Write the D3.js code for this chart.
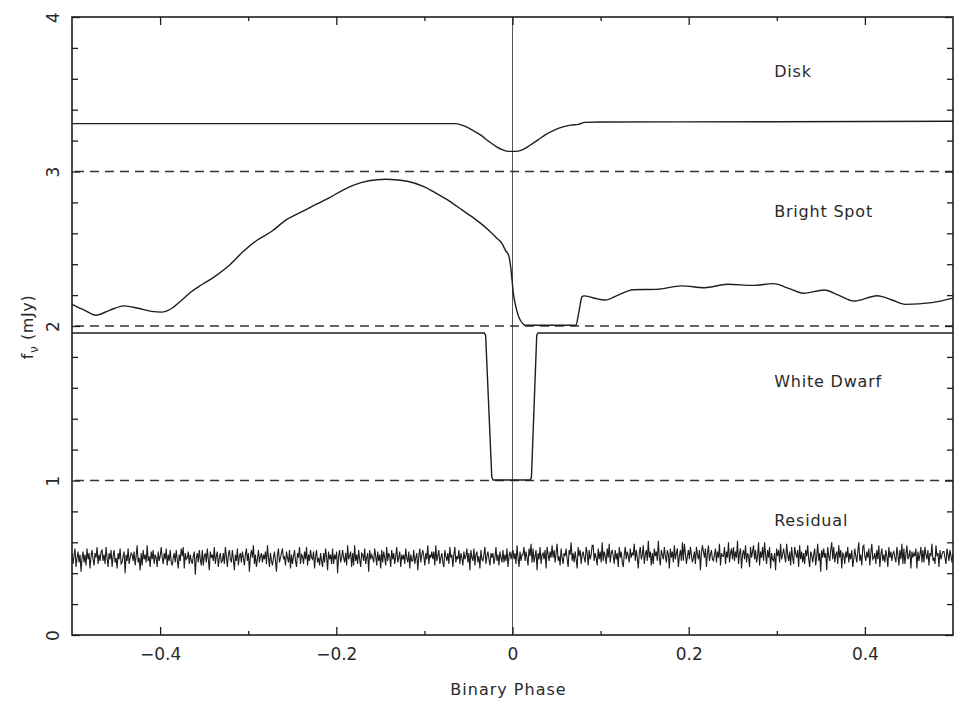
<!DOCTYPE html>
<html>
<head>
<meta charset="utf-8">
<script src="https://cdn.jsdelivr.net/npm/d3@7"></script>
<style>
  html, body { margin: 0; padding: 0; background: #fff; }
  svg { display: block; }
  text { font-family: "DejaVu Sans", "Liberation Sans", sans-serif; fill: #2a2a2a; }
</style>
</head>
<body>
<svg id="chart" width="955" height="709"></svg>
<script>
// ---- data -------------------------------------------------------------
const xMajorTicks = [-0.4, -0.2, 0, 0.2, 0.4];
const xMinorTicks = [-0.3, -0.1, 0.1, 0.3];
const yMajorTicks = [0, 1, 2, 3, 4];
const yMinorTicks = [0.2, 0.4, 0.6, 0.8, 1.2, 1.4, 1.6, 1.8, 2.2, 2.4, 2.6, 2.8, 3.2, 3.4, 3.6, 3.8];
const offsetLevels = [1, 2, 3];

const componentLabels = ["Disk", "Bright Spot", "White Dwarf", "Residual"];
const componentLabelY = [3.61, 2.705, 1.605, 0.705];

// disk light curve (offset by +3 mJy)
const diskPhase = [-0.5, -0.3, -0.1, -0.065, -0.055, -0.046, -0.036, -0.027, -0.018, -0.011, -0.004, 0.003, 0.011, 0.020, 0.029, 0.038, 0.048, 0.058, 0.066, 0.075, 0.082, 0.1, 0.3, 0.5];
const diskFlux  = [3.31, 3.31, 3.31, 3.31, 3.295, 3.27, 3.235, 3.195, 3.16, 3.14, 3.13, 3.13, 3.14, 3.17, 3.205, 3.24, 3.27, 3.29, 3.30, 3.305, 3.318, 3.32, 3.322, 3.325];

// bright spot light curve (offset by +2 mJy)
const spotPhase = [-0.5, -0.485, -0.473, -0.458, -0.441, -0.425, -0.41, -0.398, -0.388, -0.375, -0.365, -0.352, -0.338, -0.322, -0.306, -0.29, -0.274, -0.256, -0.239, -0.222, -0.208, -0.194, -0.181, -0.163, -0.144, -0.13, -0.118, -0.1, -0.087, -0.072, -0.057, -0.042, -0.027, -0.018, -0.012, -0.008, -0.004, -0.002, 0.001, 0.004, 0.007, 0.011, 0.014, 0.072, 0.075, 0.079, 0.081, 0.093, 0.105, 0.12, 0.137, 0.163, 0.192, 0.218, 0.244, 0.274, 0.296, 0.315, 0.33, 0.354, 0.37, 0.388, 0.414, 0.43, 0.446, 0.476, 0.5];
const spotFlux  = [2.14, 2.10, 2.07, 2.10, 2.13, 2.115, 2.095, 2.09, 2.11, 2.17, 2.22, 2.27, 2.32, 2.39, 2.48, 2.555, 2.61, 2.69, 2.74, 2.79, 2.83, 2.875, 2.91, 2.94, 2.95, 2.945, 2.935, 2.90, 2.86, 2.81, 2.75, 2.69, 2.62, 2.57, 2.535, 2.49, 2.45, 2.38, 2.21, 2.12, 2.06, 2.02, 2.005, 2.005, 2.08, 2.19, 2.195, 2.18, 2.168, 2.20, 2.235, 2.237, 2.26, 2.248, 2.27, 2.263, 2.274, 2.24, 2.212, 2.233, 2.20, 2.162, 2.196, 2.17, 2.14, 2.151, 2.18];

// white dwarf light curve (offset by +1 mJy)
const wdPhase = [-0.5, -0.032, -0.0305, -0.0235, -0.022, 0.020, 0.0215, 0.0275, 0.029, 0.5];
const wdFlux  = [1.955, 1.955, 1.94, 1.02, 1.003, 1.003, 1.02, 1.94, 1.955, 1.955];

// residuals, plotted around 0.5 mJy, evenly sampled in phase
const residualFlux = [
  0.53,0.46,0.51,0.56,0.44,0.50,0.54,0.47,0.52,0.41,
  0.50,0.54,0.47,0.52,0.45,0.56,0.49,0.53,0.43,0.51,
  0.55,0.49,0.45,0.53,0.50,0.57,0.46,0.52,0.48,0.54,
  0.55,0.48,0.52,0.46,0.57,0.50,0.44,0.53,0.49,0.55,
  0.44,0.51,0.55,0.47,0.50,0.43,0.53,0.49,0.56,0.46,
  0.47,0.51,0.54,0.40,0.52,0.48,0.56,0.46,0.50,0.53,
  0.52,0.48,0.54,0.45,0.51,0.58,0.47,0.50,0.42,0.53,
  0.45,0.55,0.49,0.52,0.47,0.58,0.48,0.51,0.44,0.54,
  0.49,0.55,0.46,0.52,0.50,0.44,0.54,0.48,0.51,0.57,
  0.50,0.46,0.53,0.49,0.56,0.45,0.52,0.48,0.55,0.47,
  0.45,0.50,0.53,0.47,0.55,0.49,0.43,0.52,0.48,0.56,
  0.51,0.57,0.43,0.53,0.49,0.50,0.54,0.46,0.52,0.48,
  0.46,0.51,0.54,0.39,0.50,0.53,0.47,0.55,0.49,0.45,
  0.55,0.45,0.51,0.53,0.47,0.56,0.49,0.42,0.54,0.50,
  0.52,0.48,0.57,0.46,0.51,0.54,0.44,0.50,0.53,0.47,
  0.48,0.53,0.46,0.57,0.51,0.44,0.52,0.55,0.49,0.47,
  0.55,0.49,0.42,0.52,0.48,0.56,0.45,0.51,0.53,0.47,
  0.54,0.50,0.45,0.52,0.56,0.48,0.53,0.41,0.51,0.55,
  0.50,0.58,0.46,0.52,0.44,0.49,0.55,0.47,0.51,0.53,
  0.47,0.52,0.49,0.54,0.46,0.58,0.50,0.44,0.53,0.48,
  0.45,0.50,0.54,0.48,0.41,0.52,0.56,0.47,0.50,0.53,
  0.56,0.49,0.51,0.45,0.54,0.50,0.47,0.55,0.43,0.52,
  0.46,0.51,0.55,0.48,0.44,0.53,0.50,0.57,0.46,0.52,
  0.51,0.46,0.54,0.49,0.57,0.45,0.52,0.48,0.55,0.50,
  0.49,0.54,0.43,0.51,0.55,0.47,0.50,0.45,0.53,0.48,
  0.44,0.53,0.47,0.56,0.51,0.42,0.54,0.49,0.52,0.46,
  0.56,0.46,0.52,0.49,0.54,0.40,0.51,0.55,0.47,0.50,
  0.55,0.50,0.47,0.53,0.45,0.58,0.49,0.51,0.54,0.44,
  0.53,0.45,0.58,0.48,0.52,0.46,0.55,0.49,0.44,0.53,
  0.52,0.48,0.56,0.46,0.50,0.53,0.41,0.55,0.49,0.52,
  0.50,0.47,0.56,0.51,0.45,0.54,0.48,0.52,0.43,0.55,
  0.47,0.54,0.50,0.45,0.57,0.48,0.53,0.51,0.44,0.55,
  0.49,0.53,0.46,0.51,0.57,0.47,0.50,0.54,0.44,0.52,
  0.49,0.52,0.46,0.56,0.50,0.47,0.54,0.43,0.52,0.48,
  0.48,0.55,0.46,0.50,0.53,0.42,0.51,0.56,0.47,0.52,
  0.55,0.51,0.45,0.53,0.49,0.58,0.46,0.52,0.50,0.54,
  0.49,0.54,0.45,0.58,0.48,0.51,0.55,0.46,0.50,0.53,
  0.47,0.44,0.55,0.51,0.48,0.53,0.46,0.57,0.50,0.52,
  0.44,0.52,0.57,0.47,0.51,0.49,0.55,0.46,0.53,0.50,
  0.45,0.54,0.49,0.51,0.56,0.47,0.53,0.42,0.55,0.50,
  0.48,0.56,0.45,0.52,0.54,0.47,0.51,0.43,0.55,0.49,
  0.48,0.52,0.57,0.46,0.51,0.54,0.49,0.45,0.53,0.50,
  0.53,0.46,0.50,0.57,0.48,0.52,0.45,0.54,0.50,0.47,
  0.55,0.47,0.52,0.48,0.56,0.44,0.51,0.54,0.49,0.53,
  0.55,0.49,0.53,0.46,0.58,0.50,0.44,0.54,0.48,0.52,
  0.52,0.57,0.48,0.54,0.50,0.45,0.56,0.51,0.59,0.47,
  0.56,0.47,0.51,0.55,0.42,0.53,0.49,0.57,0.46,0.52,
  0.53,0.49,0.55,0.43,0.57,0.52,0.48,0.54,0.50,0.58,
  0.50,0.55,0.47,0.53,0.59,0.48,0.51,0.45,0.56,0.50,
  0.46,0.53,0.51,0.56,0.49,0.44,0.55,0.52,0.60,0.48,
  0.53,0.47,0.54,0.49,0.43,0.57,0.51,0.55,0.46,0.52,
  0.54,0.50,0.47,0.57,0.53,0.45,0.55,0.49,0.52,0.58,
  0.58,0.48,0.53,0.50,0.45,0.56,0.49,0.54,0.47,0.60,
  0.48,0.54,0.51,0.46,0.56,0.50,0.59,0.47,0.53,0.55,
  0.51,0.46,0.55,0.49,0.53,0.44,0.57,0.50,0.54,0.47,
  0.44,0.52,0.57,0.49,0.54,0.51,0.47,0.56,0.50,0.53,
  0.52,0.59,0.48,0.55,0.50,0.43,0.53,0.57,0.49,0.52,
  0.58,0.46,0.52,0.55,0.48,0.61,0.50,0.54,0.45,0.53,
  0.46,0.56,0.51,0.54,0.48,0.61,0.50,0.45,0.55,0.52,
  0.49,0.57,0.51,0.47,0.55,0.52,0.43,0.56,0.50,0.54,
  0.47,0.58,0.49,0.53,0.56,0.44,0.51,0.55,0.48,0.60,
  0.48,0.59,0.53,0.46,0.51,0.55,0.49,0.57,0.52,0.47,
  0.50,0.54,0.46,0.57,0.52,0.49,0.55,0.42,0.53,0.58,
  0.54,0.50,0.56,0.44,0.53,0.58,0.48,0.52,0.55,0.49,
  0.48,0.52,0.56,0.47,0.54,0.50,0.59,0.45,0.53,0.51,
  0.51,0.57,0.46,0.54,0.50,0.60,0.47,0.53,0.56,0.49,
  0.57,0.48,0.54,0.50,0.61,0.46,0.53,0.56,0.43,0.52,
  0.55,0.49,0.58,0.47,0.53,0.51,0.44,0.57,0.50,0.54,
  0.58,0.49,0.55,0.47,0.51,0.60,0.45,0.54,0.50,0.57,
  0.48,0.60,0.52,0.46,0.55,0.50,0.57,0.43,0.53,0.49,
  0.48,0.53,0.42,0.56,0.51,0.55,0.47,0.59,0.49,0.52,
  0.56,0.51,0.47,0.59,0.52,0.48,0.54,0.45,0.57,0.50,
  0.46,0.57,0.53,0.50,0.55,0.44,0.58,0.49,0.54,0.47,
  0.53,0.46,0.55,0.51,0.58,0.49,0.44,0.54,0.52,0.47,
  0.52,0.56,0.45,0.51,0.59,0.48,0.53,0.41,0.55,0.50,
  0.56,0.50,0.53,0.42,0.57,0.51,0.48,0.55,0.60,0.49,
  0.57,0.47,0.52,0.54,0.46,0.58,0.50,0.55,0.43,0.53,
  0.52,0.46,0.54,0.50,0.57,0.47,0.53,0.49,0.55,0.44,
  0.49,0.56,0.51,0.47,0.54,0.60,0.48,0.52,0.45,0.57,
  0.58,0.51,0.48,0.54,0.50,0.56,0.45,0.53,0.59,0.49,
  0.50,0.53,0.46,0.55,0.49,0.58,0.44,0.52,0.56,0.48,
  0.52,0.47,0.55,0.51,0.44,0.57,0.50,0.54,0.48,0.53,
  0.54,0.50,0.47,0.57,0.52,0.45,0.55,0.49,0.59,0.46,
  0.56,0.46,0.52,0.58,0.49,0.51,0.55,0.43,0.54,0.50,
  0.53,0.51,0.56,0.43,0.54,0.48,0.52,0.57,0.47,0.55,
  0.47,0.57,0.52,0.49,0.55,0.45,0.53,0.51,0.59,0.48,
  0.50,0.46,0.58,0.51,0.53,0.44,0.55,0.49,0.52,0.54,
  0.54,0.50,0.46,0.56,0.52,0.48,0.55,0.51,0.47,0.53
];

// ---- layout -----------------------------------------------------------
const plot = { left: 72, right: 953, top: 17, bottom: 635 };
const ink = "#1e1e1e";

const svg = d3.select("#chart");
const x = d3.scaleLinear().domain([-0.5, 0.5]).range([plot.left, plot.right]);
const y = d3.scaleLinear().domain([0, 4]).range([plot.bottom, plot.top]);

const zip = (xs, ys) => xs.map((p, i) => [p, ys[i]]);
const line = d3.line().x(d => x(d[0])).y(d => y(d[1]));

// vertical reference line at phase 0
svg.append("line")
  .attr("x1", x(0)).attr("x2", x(0))
  .attr("y1", y(4)).attr("y2", y(0))
  .attr("stroke", "#555").attr("stroke-width", 1);

// dashed zero levels of the offset components
svg.append("g").selectAll("line").data(offsetLevels).join("line")
  .attr("x1", x(-0.5) + 3).attr("x2", x(0.5))
  .attr("y1", d => y(d)).attr("y2", d => y(d))
  .attr("stroke", "#333").attr("stroke-width", 1.4)
  .attr("stroke-dasharray", "9,6");

// residuals
const resPts = residualFlux.map((v, i) => [-0.5 + i / (residualFlux.length - 1), v]);
svg.append("path")
  .attr("d", line(resPts))
  .attr("fill", "none").attr("stroke", "#1c1c1c")
  .attr("stroke-width", 1.1).attr("stroke-linejoin", "miter");

// component light curves
const smooth = d3.line().x(d => x(d[0])).y(d => y(d[1])).curve(d3.curveMonotoneX);
[[diskPhase, diskFlux, smooth], [spotPhase, spotFlux, smooth], [wdPhase, wdFlux, line]]
  .forEach(([px, fy, gen]) => {
    svg.append("path")
      .attr("d", gen(zip(px, fy)))
      .attr("fill", "none").attr("stroke", ink)
      .attr("stroke-width", 1.4);
  });

// ---- axes -------------------------------------------------------------
function styleAxis(g) {
  g.select(".domain").remove();
  g.selectAll(".tick line").attr("stroke", ink).attr("stroke-width", 1.3);
  g.selectAll("text").attr("font-size", 17).attr("fill", "#2a2a2a")
    .attr("font-family", "\"DejaVu Sans\", sans-serif");
}
const fmt = d => d === 0 ? "0" : d3.format(".1f")(d).replace("-", "\u2212");

svg.append("g").attr("transform", `translate(0,${plot.bottom})`)
  .call(d3.axisBottom(x).tickValues(xMajorTicks).tickSize(-8).tickPadding(13).tickFormat(fmt))
  .call(styleAxis);
svg.append("g").attr("transform", `translate(0,${plot.bottom})`)
  .call(d3.axisBottom(x).tickValues(xMinorTicks).tickSize(-4).tickFormat(""))
  .call(styleAxis);
svg.append("g").attr("transform", `translate(0,${plot.top})`)
  .call(d3.axisTop(x).tickValues(xMajorTicks).tickSize(-8).tickFormat(""))
  .call(styleAxis);
svg.append("g").attr("transform", `translate(0,${plot.top})`)
  .call(d3.axisTop(x).tickValues(xMinorTicks).tickSize(-4).tickFormat(""))
  .call(styleAxis);

const yAxis = svg.append("g").attr("transform", `translate(${plot.left},0)`)
  .call(d3.axisLeft(y).tickValues(yMajorTicks).tickSize(-8).tickFormat(d3.format("d")))
  .call(styleAxis);
yAxis.selectAll("text")
  .attr("x", null).attr("dy", null)
  .attr("text-anchor", "middle")
  .attr("transform", "translate(-13,0) rotate(-90)");
svg.append("g").attr("transform", `translate(${plot.left},0)`)
  .call(d3.axisLeft(y).tickValues(yMinorTicks).tickSize(-6).tickFormat(""))
  .call(styleAxis);
svg.append("g").attr("transform", `translate(${plot.right},0)`)
  .call(d3.axisRight(y).tickValues(yMajorTicks).tickSize(-8).tickFormat(""))
  .call(styleAxis);
svg.append("g").attr("transform", `translate(${plot.right},0)`)
  .call(d3.axisRight(y).tickValues(yMinorTicks).tickSize(-6).tickFormat(""))
  .call(styleAxis);

// frame
svg.append("rect")
  .attr("x", plot.left).attr("y", plot.top)
  .attr("width", plot.right - plot.left).attr("height", plot.bottom - plot.top)
  .attr("fill", "none").attr("stroke", ink).attr("stroke-width", 1.6);

// component names
svg.append("g").selectAll("text").data(componentLabels).join("text")
  .attr("x", x(0.297))
  .attr("y", (d, i) => y(componentLabelY[i]))
  .attr("font-size", 16).attr("letter-spacing", 0.8)
  .text(d => d);

// axis titles
svg.append("text")
  .attr("x", (plot.left + plot.right) / 2 - 4).attr("y", 695)
  .attr("text-anchor", "middle").attr("font-size", 16).attr("letter-spacing", 1)
  .text("Binary Phase");

const yTitle = svg.append("text")
  .attr("transform", "translate(33,327) rotate(-90)")
  .attr("text-anchor", "middle").attr("font-size", 16).attr("letter-spacing", 0.6);
yTitle.append("tspan").text("f");
yTitle.append("tspan").attr("font-size", 12).attr("dy", 5).text("\u03BD");
yTitle.append("tspan").attr("dy", -5).text(" (mJy)");
</script>
</body>
</html>
